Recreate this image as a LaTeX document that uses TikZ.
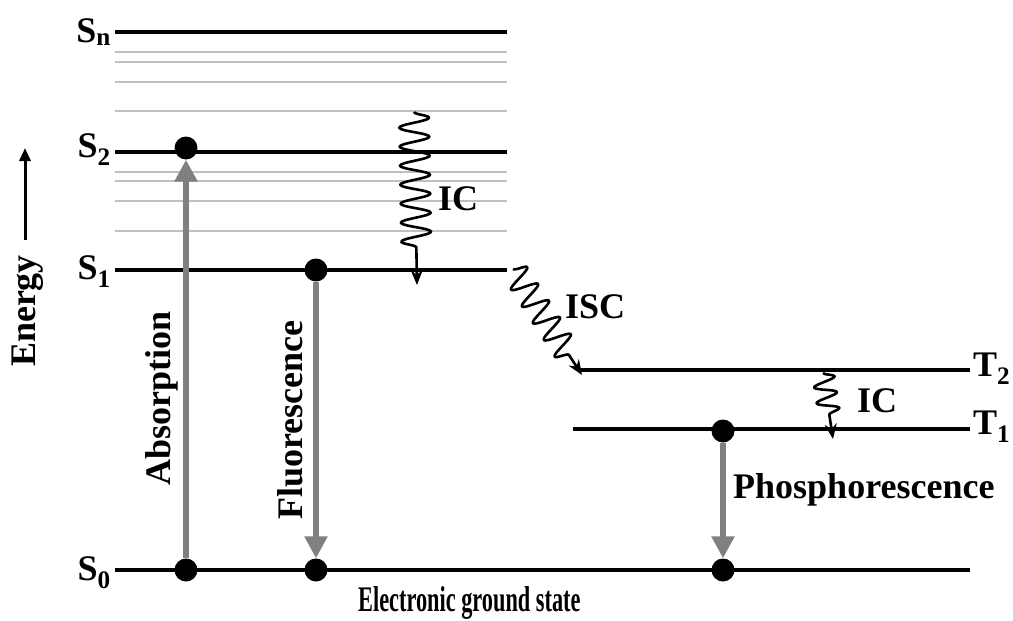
\documentclass[tikz,border=0pt]{standalone}
\usepackage{fontspec}
\setmainfont{Liberation Serif}
\usetikzlibrary{arrows.meta,decorations.pathmorphing}
\definecolor{levelgray}{RGB}{192,192,192}
\definecolor{transgray}{RGB}{128,128,128}

\begin{document}
\begin{tikzpicture}[x=1pt,y=-1pt,
  level/.style={line width=4.5pt},
  sublevel/.style={levelgray,line width=2.2pt},
  dot/.style={circle,fill=black,inner sep=0pt,minimum size=23pt},
  trans/.style={transgray,line width=6pt,-{Triangle[length=22pt,width=22pt]}},
  wavy/.style={line width=2.6pt,line join=round,decorate,-{Stealth[length=15pt,width=12pt]}},
  lbl/.style={font=\fontsize{36}{42}\selectfont\bfseries,inner sep=0pt}]
\useasboundingbox (0,0) rectangle (1013,621);
% Schwingungsniveaus
\foreach \y in {52,62,82,111,172,181,201,231}
  \draw[sublevel] (115,\y) -- (507,\y);
% Elektronische Zustände
\draw[level] (115,32) -- (507,32);
\draw[level] (115,152) -- (507,152);
\draw[level] (115,270) -- (507,270);
\draw[level] (578,370) -- (970,370);
\draw[level] (573,429) -- (970,429);
\draw[level] (115,570) -- (970,570);
\node[lbl,anchor=base east] (sn) at (111,42) {S\textsubscript{n}};
\node[lbl,anchor=base east] (s2) at (111,157) {S\textsubscript{2}};
\node[lbl,anchor=base east] (s1) at (111,279) {S\textsubscript{1}};
\node[lbl,anchor=base east] (s0) at (111,580) {S\textsubscript{0}};
\node[lbl,anchor=base west] (t2) at (973,376) {T\textsubscript{2}};
\node[lbl,anchor=base west] (t1) at (973,434) {T\textsubscript{1}};
% Elektronen
\node[dot] (abs-top) at (186,148) {};
\node[dot] (abs-bot) at (186,570) {};
\node[dot] (fl-top) at (316,270) {};
\node[dot] (fl-bot) at (316,570) {};
\node[dot] (ph-top) at (723,431) {};
\node[dot] (ph-bot) at (723,570) {};
\draw[trans] (abs-bot) -- (abs-top);
\draw[trans] (fl-top) -- (fl-bot);
\draw[trans] (ph-top) -- (ph-bot);
\node[lbl,rotate=90,anchor=base] (absorption) at (170,398) {Absorption};
\node[lbl,rotate=90,anchor=base] (fluorescence) at (302,420) {Fluorescence};
\node[lbl,anchor=base west] (phosphorescence) at (733,498) {Phosphorescence};
% Strahlungslose Übergänge
\coordinate (ic-a) at (414,112);
\coordinate (ic-b) at (417,285);
\coordinate (isc-a) at (513,269);
\coordinate (isc-b) at (582,375);
\coordinate (ict-a) at (823,373);
\coordinate (ict-b) at (833,439);
\draw[wavy,decoration={snake,amplitude=15pt,segment length=19pt,post length=34pt}] (ic-a) -- (ic-b);
\draw[wavy,decoration={snake,amplitude=13pt,segment length=20pt,post length=20pt}] (isc-a) -- (isc-b);
\draw[wavy,decoration={snake,amplitude=11pt,segment length=16pt,post length=18pt}] (ict-a) -- (ict-b);
\node[lbl,anchor=base west] (ic) at (438,210) {IC};
\node[lbl,anchor=base west] (isc) at (565,318) {ISC};
\node[lbl,anchor=base west] (ict) at (857,412) {IC};
% Achse
\coordinate (en-a) at (25,240);
\coordinate (en-b) at (25,148);
\draw[line width=3pt,-{Triangle[length=13pt,width=11pt]}] (en-a) -- (en-b);
\node[lbl,rotate=90,anchor=base] (energy) at (35,311) {Energy};
\node[lbl,anchor=base west] (ground) at (358,611) {\scalebox{0.62}[1]{Electronic ground state}};
\end{tikzpicture}
\end{document}
